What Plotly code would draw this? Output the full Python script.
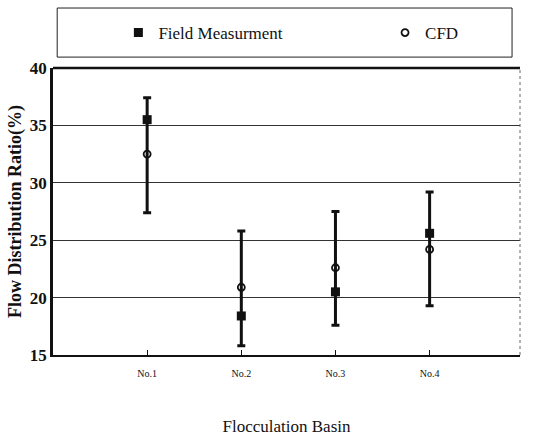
import plotly.graph_objects as go

basins = ["No.1", "No.2", "No.3", "No.4"]
field = [35.5, 18.4, 20.5, 25.6]
cfd = [32.5, 20.9, 22.6, 24.2]
bar_high = [37.4, 25.8, 27.5, 29.2]
bar_low = [27.4, 15.8, 17.6, 19.3]

xpos = list(range(len(basins)))
err_plus = [h - f for h, f in zip(bar_high, field)]
err_minus = [f - l for f, l in zip(field, bar_low)]

fig = go.Figure()
fig.add_trace(go.Scatter(
    x=xpos, y=field, mode="markers", showlegend=False, hoverinfo="skip",
    marker=dict(size=1, color="rgba(0,0,0,0)"),
    error_y=dict(type="data", symmetric=False, array=err_plus, arrayminus=err_minus,
                 color="#111", thickness=3, width=4)))
fig.add_trace(go.Scatter(
    x=xpos, y=field, mode="markers", name="Field Measurment", legend="legend",
    marker=dict(symbol="square", size=9, color="#111")))
fig.add_trace(go.Scatter(
    x=xpos, y=cfd, mode="markers", name="CFD", legend="legend2",
    marker=dict(symbol="circle-open", size=7, color="#111", line=dict(width=1.8))))

serif = "Liberation Serif, Times New Roman, serif"
legfont = dict(family=serif, size=17, color="#111")
fig.update_layout(
    width=533, height=436,
    margin=dict(l=53, r=13, t=68, b=81),
    plot_bgcolor="white", paper_bgcolor="white",
    font=dict(family=serif, color="#111"),
    showlegend=True,
    legend=dict(x=0.14, xanchor="left", y=1.122, yanchor="middle",
                font=legfont, bgcolor="rgba(0,0,0,0)", itemwidth=30),
    legend2=dict(x=0.711, xanchor="left", y=1.122, yanchor="middle",
                 font=legfont, bgcolor="rgba(0,0,0,0)", itemwidth=30),
    xaxis=dict(range=[-1, 3.96], tickmode="array", tickvals=xpos, ticktext=basins,
               tickfont=dict(size=10, family=serif), ticks="inside", ticklen=5,
               tickcolor="#111", showgrid=False, zeroline=False, automargin=False,
               showline=True, linecolor="#111", linewidth=2, ticklabelstandoff=8,
               title=dict(text="Flocculation Basin", font=dict(size=17, family=serif),
                          standoff=50)),
    yaxis=dict(range=[15, 40], dtick=5, tickfont=dict(size=17, family=serif, weight="bold"),
               showgrid=True, gridcolor="#333", gridwidth=1, zeroline=False,
               showline=True, linecolor="#111", linewidth=2.5, ticks="", automargin=False,
               title=dict(text="<b>Flow Distribution Ratio(%)</b>",
                          font=dict(size=18, family=serif), standoff=4)),
    shapes=[
        dict(type="rect", xref="paper", yref="paper", x0=0.009, x1=0.983,
             y0=1.038, y1=1.209, line=dict(color="#222", width=1)),
        dict(type="line", xref="paper", yref="paper", x0=0, x1=1, y0=1, y1=1,
             line=dict(color="#111", width=2.5)),
        dict(type="line", xref="paper", yref="paper", x0=1, x1=1, y0=0, y1=1,
             line=dict(color="#666", width=1, dash="dot")),
    ],
)
fig.write_html("out.html")
